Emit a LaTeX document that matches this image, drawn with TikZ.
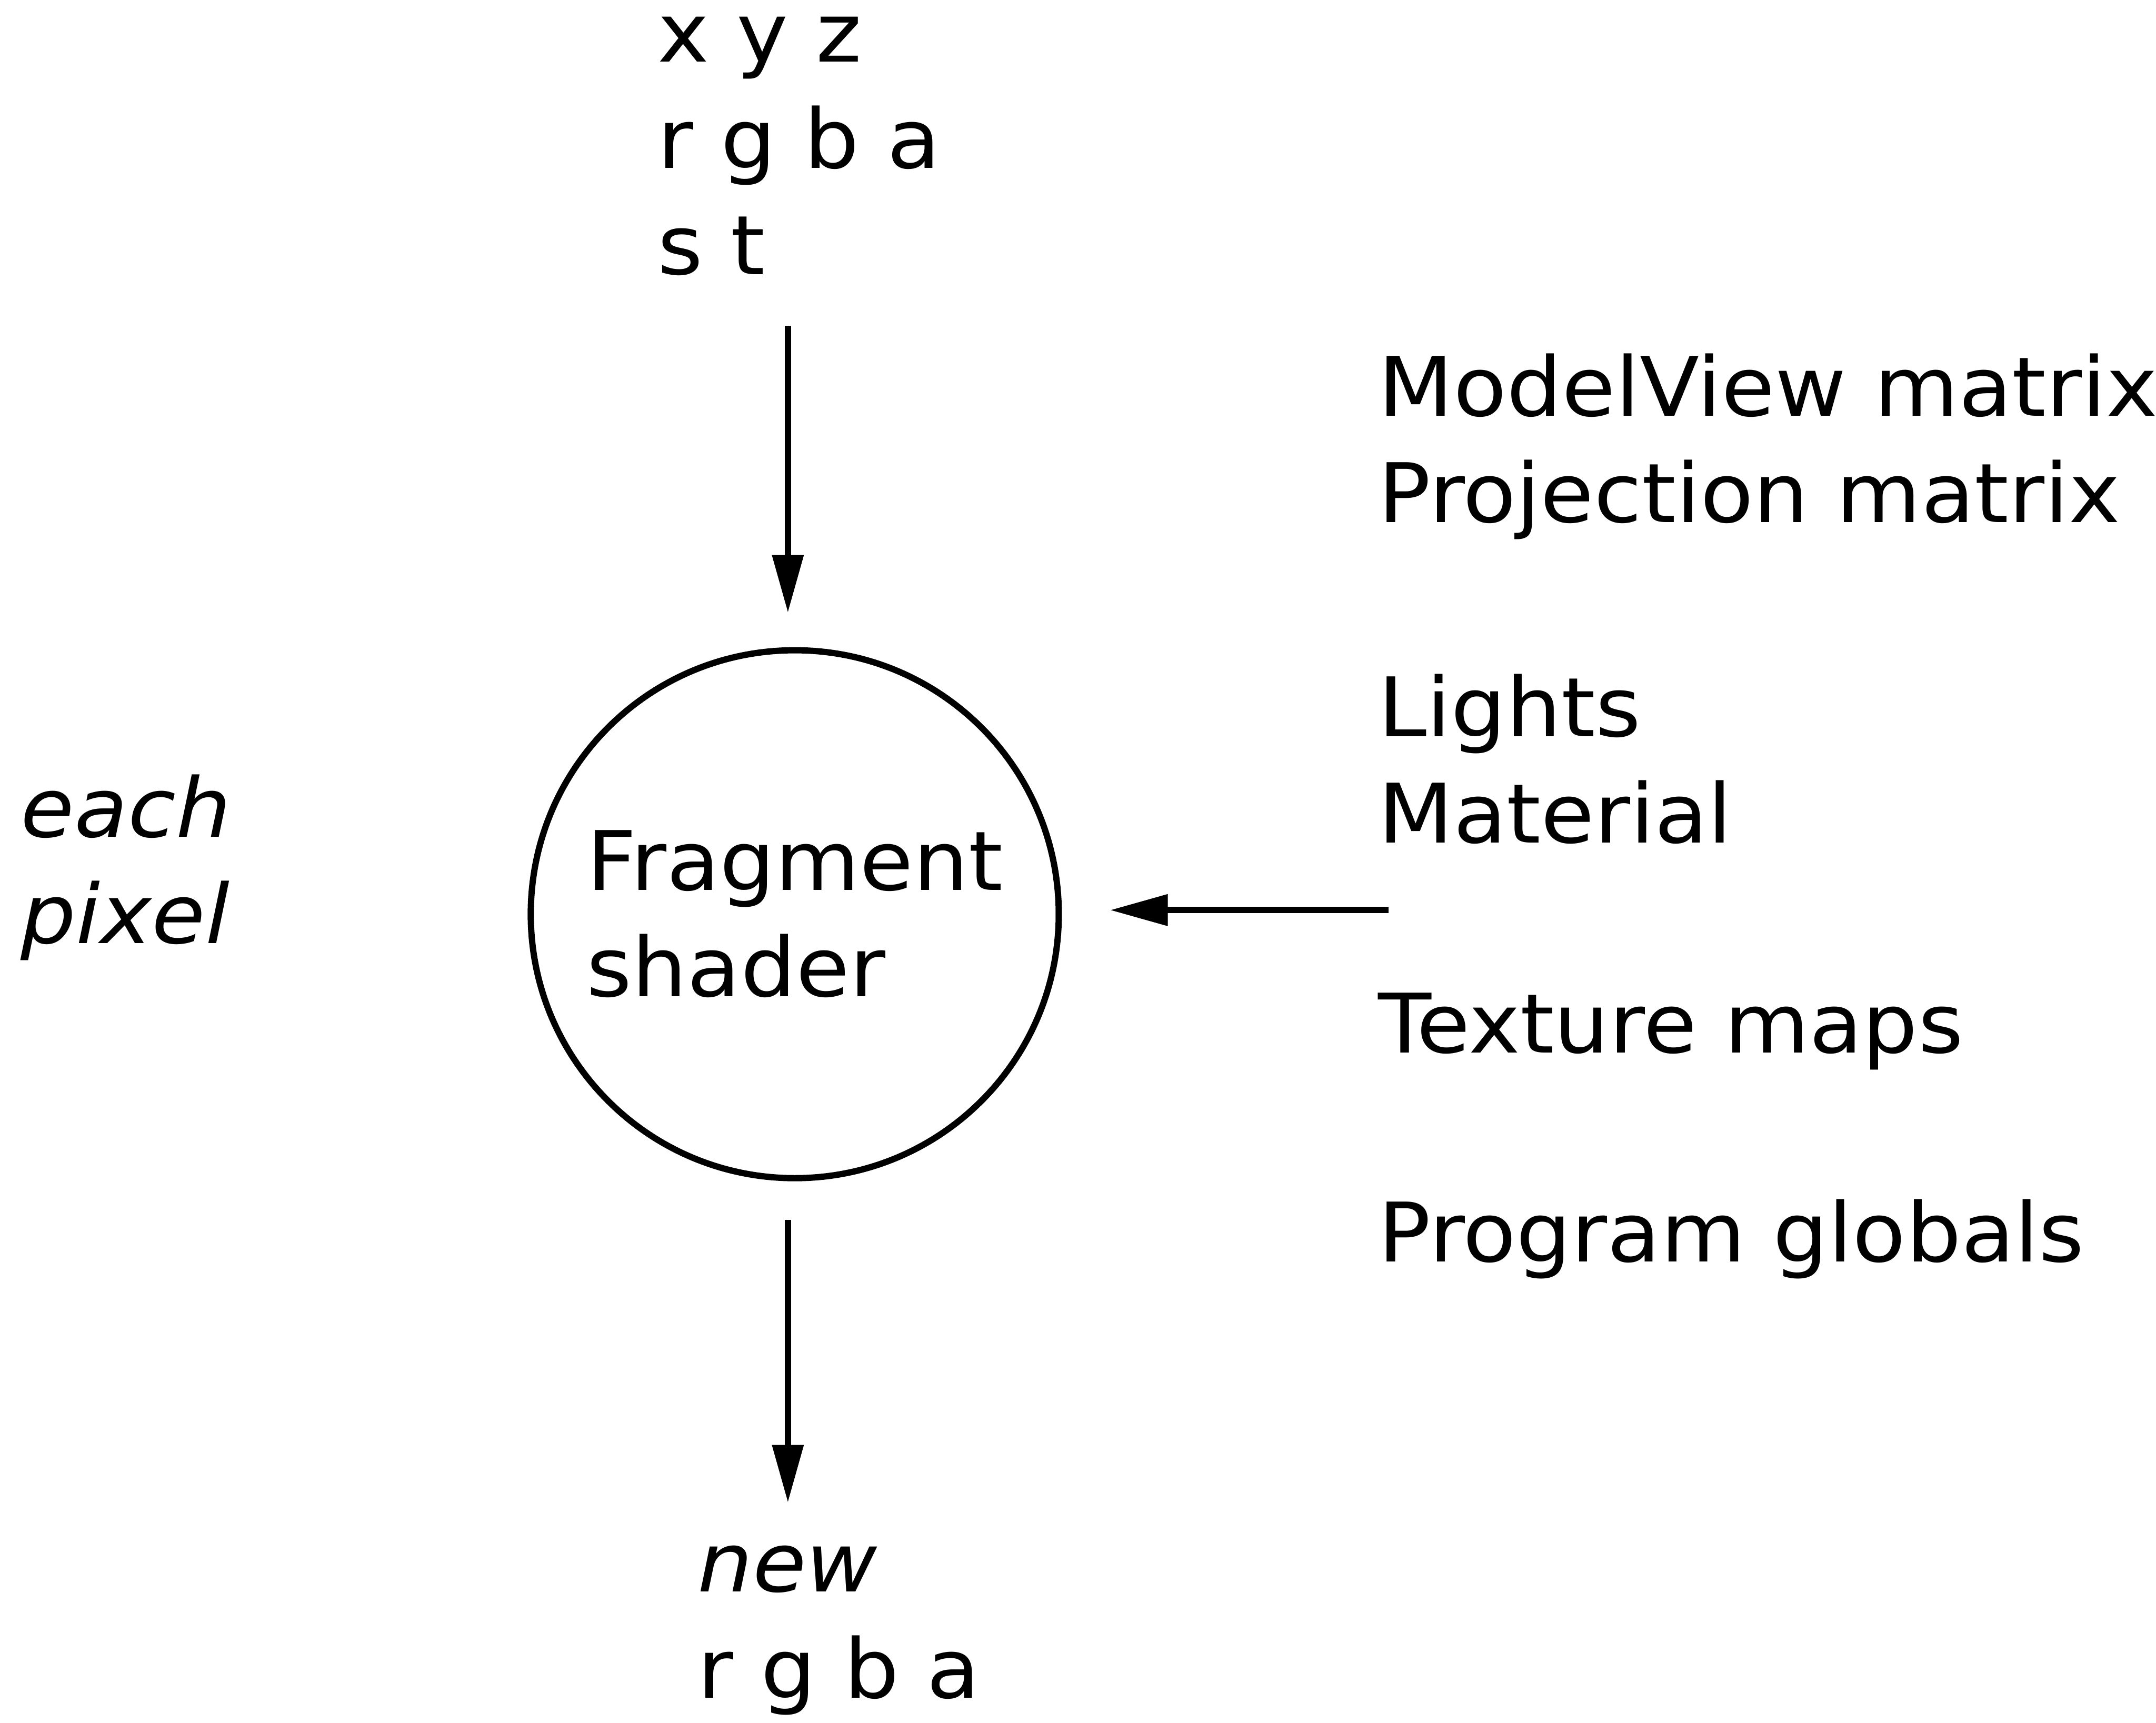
\documentclass[tikz,border=0pt]{standalone}
\usepackage{fontspec}
\setmainfont{DejaVu Sans}[FakeStretch=1.06]
\usetikzlibrary{arrows.meta}

\begin{document}
\begin{tikzpicture}[line width=1.3pt,
    >={Triangle[length=0.42cm,width=0.22cm]},
    lbl/.style={anchor=north west, inner sep=0pt, align=left,
      font=\fontsize{17}{22}\selectfont}]
    \useasboundingbox (0,0) rectangle (15.68,-12.53);
    \node[draw, circle, minimum size=3.84cm, inner sep=0pt, align=left,
      font=\fontsize{17}{22}\selectfont] (frag) at (5.78,-6.65) {Fragment\\shader};
    \node[lbl] (attrs) at (4.76,-0.10) {x y z\\r g b a\\s t};
    \node[lbl, font=\fontsize{17}{22}\selectfont\itshape] (each) at (0.13,-5.61) {each\\pixel};
    \node[lbl] (outcol) at (5.05,-11.22) {{\itshape new}\\r g b a};
    \node[lbl] (matrices) at (10.00,-2.55) {ModelView matrix\\Projection matrix};
    \node[lbl] (lights) at (10.00,-4.88) {Lights\\Material};
    \node[lbl] (tex) at (10.00,-7.20) {Texture maps};
    \node[lbl] (globals) at (10.00,-8.70) {Program globals};
    \coordinate (infrom) at (5.73,-2.37);
    \coordinate (outto) at (5.73,-10.93);
    \coordinate (unifrom) at (10.10,-6.62);
    \draw[->, shorten >=0.25cm] (infrom) -- (frag.north -| infrom);
    \draw[->, shorten <=0.28cm] (frag.south -| outto) -- (outto);
    \draw[->, shorten >=0.35cm] (unifrom) -- (frag.east |- unifrom);
  \end{tikzpicture}
\end{document}
